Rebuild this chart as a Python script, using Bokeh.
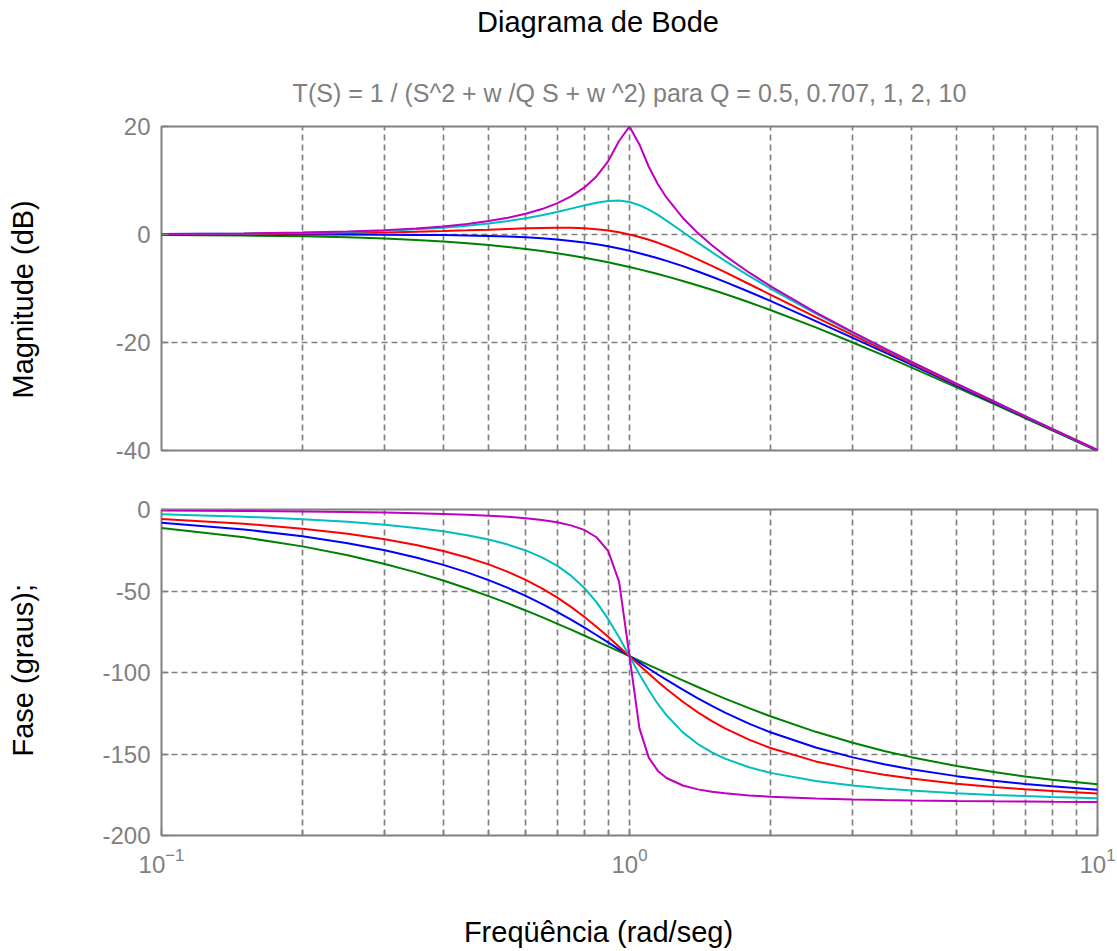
import math
from bokeh.plotting import figure
from bokeh.layouts import column, row
from bokeh.models import Range1d, FixedTicker, Title, ColumnDataSource, Label
from bokeh.embed import file_html
from bokeh.resources import INLINE

# ---------------- data ----------------
freq = [0.1, 0.15, 0.2, 0.25, 0.3, 0.35, 0.4, 0.45, 0.5, 0.55, 0.6, 0.65, 0.7,
        0.75, 0.8, 0.85, 0.9, 0.95, 1.0, 1.05, 1.1, 1.15, 1.2, 1.3, 1.4, 1.5,
        1.6, 1.8, 2.0, 2.5, 3.0, 3.5, 4.0, 5.0, 6.0, 7.0, 8.0, 10.0]

q_values = ["0.5", "0.707", "1", "2", "10"]

mag_q05 = [-0.09, -0.19, -0.34, -0.53, -0.75, -1.00, -1.29, -1.60, -1.94, -2.30,
           -2.67, -3.06, -3.46, -3.88, -4.30, -4.72, -5.15, -5.59, -6.02, -6.46,
           -6.89, -7.32, -7.75, -8.60, -9.43, -10.24, -11.03, -12.55, -13.98,
           -17.21, -20.00, -22.44, -24.61, -28.30, -31.36, -33.98, -36.26, -40.09]
mag_q0707 = [0.00, 0.00, -0.01, -0.02, -0.04, -0.07, -0.11, -0.18, -0.26, -0.38,
             -0.53, -0.71, -0.94, -1.19, -1.49, -1.82, -2.19, -2.59, -3.01, -3.46,
             -3.92, -4.39, -4.88, -5.86, -6.85, -7.83, -8.78, -10.61, -12.30,
             -16.03, -19.14, -21.79, -24.10, -27.97, -31.13, -33.81, -36.13, -40.00]
mag_q1 = [0.04, 0.10, 0.17, 0.26, 0.37, 0.49, 0.63, 0.77, 0.90, 1.03, 1.14, 1.21,
          1.25, 1.23, 1.14, 0.97, 0.73, 0.40, 0.00, -0.47, -0.98, -1.54, -2.13,
          -3.36, -4.60, -5.81, -6.98, -9.17, -11.14, -15.29, -18.63, -21.42,
          -23.82, -27.79, -31.01, -33.72, -36.06, -39.96]
mag_q2 = [0.08, 0.17, 0.31, 0.48, 0.70, 0.97, 1.27, 1.63, 2.04, 2.50, 3.01, 3.57,
          4.17, 4.79, 5.38, 5.89, 6.22, 6.29, 6.02, 5.43, 4.60, 3.62, 2.57, 0.46,
          -1.50, -3.27, -4.88, -7.66, -10.00, -14.64, -18.21, -21.13, -23.60,
          -27.65, -30.91, -33.65, -36.00, -39.92]
mag_q10 = [0.09, 0.20, 0.35, 0.56, 0.81, 1.13, 1.50, 1.95, 2.48, 3.10, 3.84, 4.71,
           5.77, 7.06, 8.67, 10.75, 13.55, 17.32, 20.00, 16.67, 12.50, 9.31, 6.82,
           3.07, 0.26, -2.00, -3.91, -7.03, -9.56, -14.41, -18.07, -21.03, -23.53,
           -27.61, -30.88, -33.63, -35.99, -39.91]

ph_q05 = [-11.42, -17.06, -22.62, -28.07, -33.40, -38.58, -43.60, -48.46, -53.13,
          -57.62, -61.93, -66.05, -69.98, -73.74, -77.32, -80.73, -83.97, -87.06,
          -90.00, -92.79, -95.45, -97.98, -100.39, -104.86, -108.92, -112.62,
          -115.99, -121.89, -126.87, -136.40, -143.13, -148.11, -151.93, -157.38,
          -161.08, -163.74, -165.75, -168.58]
ph_q0707 = [-8.13, -12.24, -16.42, -20.66, -25.00, -29.42, -33.96, -38.59, -43.32,
            -48.12, -52.98, -57.86, -62.75, -67.59, -72.35, -77.00, -81.51, -85.85,
            -90.00, -93.95, -97.69, -101.22, -104.54, -110.57, -115.87, -120.51,
            -124.59, -131.35, -136.69, -146.04, -152.06, -156.25, -159.34, -163.58,
            -166.37, -168.35, -169.82, -171.87]
ph_q1 = [-5.77, -8.72, -11.77, -14.93, -18.25, -21.75, -25.46, -29.43, -33.69,
         -38.26, -43.15, -48.38, -53.92, -59.74, -65.77, -71.92, -78.08, -84.14,
         -90.00, -95.58, -100.81, -105.67, -110.14, -117.96, -124.44, -129.81,
         -134.27, -141.22, -146.31, -154.54, -159.44, -162.72, -165.07, -168.23,
         -170.27, -171.70, -172.76, -174.23]
ph_q2 = [-2.89, -4.39, -5.95, -7.59, -9.36, -11.28, -13.39, -15.76, -18.43, -21.52,
         -25.11, -29.37, -34.46, -40.60, -48.01, -56.86, -67.11, -78.40, -90.00,
         -101.05, -110.90, -119.29, -126.25, -136.71, -143.90, -149.04, -152.85,
         -158.11, -161.57, -166.61, -169.38, -171.16, -172.41, -174.05, -175.10,
         -175.83, -176.37, -177.11]
ph_q10 = [-0.58, -0.88, -1.19, -1.53, -1.89, -2.28, -2.73, -3.23, -3.81, -4.51,
          -5.36, -6.42, -7.82, -9.73, -12.53, -17.03, -25.35, -44.26, -90.00,
          -134.31, -152.35, -160.37, -164.74, -169.33, -171.70, -173.16, -174.14,
          -175.41, -176.19, -177.27, -177.85, -178.22, -178.47, -178.81, -179.02,
          -179.16, -179.27, -179.42]

mag_ticks = [-40, -20, 0, 20]
phase_ticks = [-200, -150, -100, -50, 0]
x_major = [0.1, 1, 10]
x_minor = [0.2, 0.3, 0.4, 0.5, 0.6, 0.7, 0.8, 0.9, 2, 3, 4, 5, 6, 7, 8, 9]

main_title = "Diagrama de Bode"
sub_title = "T(S) = 1 / (S^2 + w /Q S + w ^2) para Q = 0.5, 0.707, 1, 2, 10"
mag_label = "Magnitude (dB)"
phase_label = "Fase (graus);"
x_label = "Freqüência (rad/seg)"

# ---------------- layout / styling ----------------
FONT = "Liberation Sans"
GRAY = "#808080"
COLORS = ["#008000", "#0000ff", "#ff0000", "#00bfbf", "#bf00bf"]

STRIP_W = 50           # left strip holding the rotated y labels
MAIN_W = 1067          # width of the column with the plots
LEFT = 111             # left border of the plots  (frame starts at x = 161)
RIGHT = 20             # right border (frame ends at x = 1097)
FRAME_X0 = STRIP_W + LEFT
TOP_H = 56             # strip holding the main title
BOT_H = 65             # strip holding the x label
P1_TOP = 70
P1_H = P1_TOP + 324 + 30   # magnitude frame 126..450
P2_H = 29 + 326 + 50       # phase frame 509..835
TOTAL_H = TOP_H + P1_H + P2_H + BOT_H
BASE_FIX = 11.5        # measured shift of the label baseline

src = ColumnDataSource(dict(
    freq=freq,
    m05=mag_q05, m0707=mag_q0707, m1=mag_q1, m2=mag_q2, m10=mag_q10,
    p05=ph_q05, p0707=ph_q0707, p1=ph_q1, p2=ph_q2, p10=ph_q10,
))


def style(p, yticks, show_x):
    p.outline_line_color = GRAY
    p.outline_line_width = 2
    p.background_fill_color = "white"
    p.border_fill_color = "white"

    xt = FixedTicker(ticks=x_major, minor_ticks=x_minor)
    yt = FixedTicker(ticks=yticks)
    p.xaxis.ticker = xt
    p.yaxis.ticker = yt
    p.xgrid.ticker = xt
    p.ygrid.ticker = yt

    for g in (p.xgrid, p.ygrid):
        g.grid_line_color = GRAY
        g.grid_line_width = 1.7
        g.grid_line_dash = "6 4"
    p.xgrid.minor_grid_line_color = GRAY
    p.xgrid.minor_grid_line_width = 1.7
    p.xgrid.minor_grid_line_dash = "6 4"

    for ax in (p.xaxis, p.yaxis):
        ax.axis_line_color = None
        ax.major_tick_line_color = GRAY
        ax.minor_tick_line_color = GRAY
        ax.major_tick_line_width = 1.5
        ax.minor_tick_line_width = 1.5
        ax.major_tick_in = 7
        ax.major_tick_out = 0
        ax.minor_tick_in = 5
        ax.minor_tick_out = 0
        ax.major_label_text_font = FONT
        ax.major_label_text_font_size = "24px"
        ax.major_label_text_color = GRAY
    p.yaxis.minor_tick_line_color = None
    p.yaxis.major_label_standoff = 11
    p.yaxis.major_label_overrides = {t: str(t) for t in yticks}
    p.xaxis.major_label_standoff = 12

    if not show_x:
        p.xaxis.visible = False


def add_lines(p, keys):
    for k, c in zip(keys, COLORS):
        p.line("freq", k, source=src, line_color=c, line_width=2)


def text_strip(width, height):
    f = figure(width=width, height=height, x_range=Range1d(0, 1),
               y_range=Range1d(0, 1), x_axis_location=None, y_axis_location=None,
               output_backend="svg", toolbar_location=None, title=None,
               min_border=0)
    f.outline_line_color = None
    f.background_fill_color = "white"
    f.border_fill_color = "white"
    for g in f.grid:
        g.visible = False
    return f


def text_label(p, text, x, y, size, color="black", angle=0.0, align="center"):
    p.add_layout(Label(x=x, y=y, x_units="screen", y_units="screen", text=text,
                       angle=angle, text_align=align, text_baseline="alphabetic",
                       text_font=FONT, text_font_size=size, text_color=color))


# main title strip (page y 0..56); its frame shares the plots' left border
ft = text_strip(MAIN_W, TOP_H)
text_label(ft, main_title, 597.5 - FRAME_X0, TOP_H - 33.3 + BASE_FIX, "29px")

# top: magnitude
p1 = figure(width=MAIN_W, height=P1_H, x_axis_type="log",
            x_range=Range1d(0.1, 10), y_range=Range1d(-40, 20),
            output_backend="svg", toolbar_location=None, title=None,
            min_border_left=LEFT, min_border_right=RIGHT,
            min_border_top=P1_TOP, min_border_bottom=30)
style(p1, mag_ticks, False)
add_lines(p1, ["m05", "m0707", "m1", "m2", "m10"])
p1.add_layout(Title(text=sub_title, align="center", text_font=FONT,
                    text_font_size="25px", text_font_style="normal",
                    text_color=GRAY, standoff=40), "above")

# bottom: phase
p2 = figure(width=MAIN_W, height=P2_H, x_axis_type="log",
            x_range=Range1d(0.1, 10), y_range=Range1d(-200, 0),
            output_backend="svg", toolbar_location=None, title=None,
            min_border_left=LEFT, min_border_right=RIGHT,
            min_border_top=29, min_border_bottom=50)
style(p2, phase_ticks, True)
add_lines(p2, ["p05", "p0707", "p1", "p2", "p10"])

# x label strip (page y 885..950)
fb = text_strip(MAIN_W, BOT_H)
text_label(fb, x_label, 598 - FRAME_X0, TOTAL_H - 943 + BASE_FIX, "29px")

# left strip with the rotated y labels (page x 0..50)
fl = text_strip(STRIP_W, TOTAL_H)
text_label(fl, mag_label, 33.5 - BASE_FIX, TOTAL_H - 398, "29px",
           angle=math.pi / 2, align="left")
text_label(fl, phase_label, 33.5 - BASE_FIX, TOTAL_H - 756, "29px",
           angle=math.pi / 2, align="left")

layout = row(fl, column(ft, p1, p2, fb, spacing=0), spacing=0)
open("out.html", "w").write(file_html(layout, INLINE))
